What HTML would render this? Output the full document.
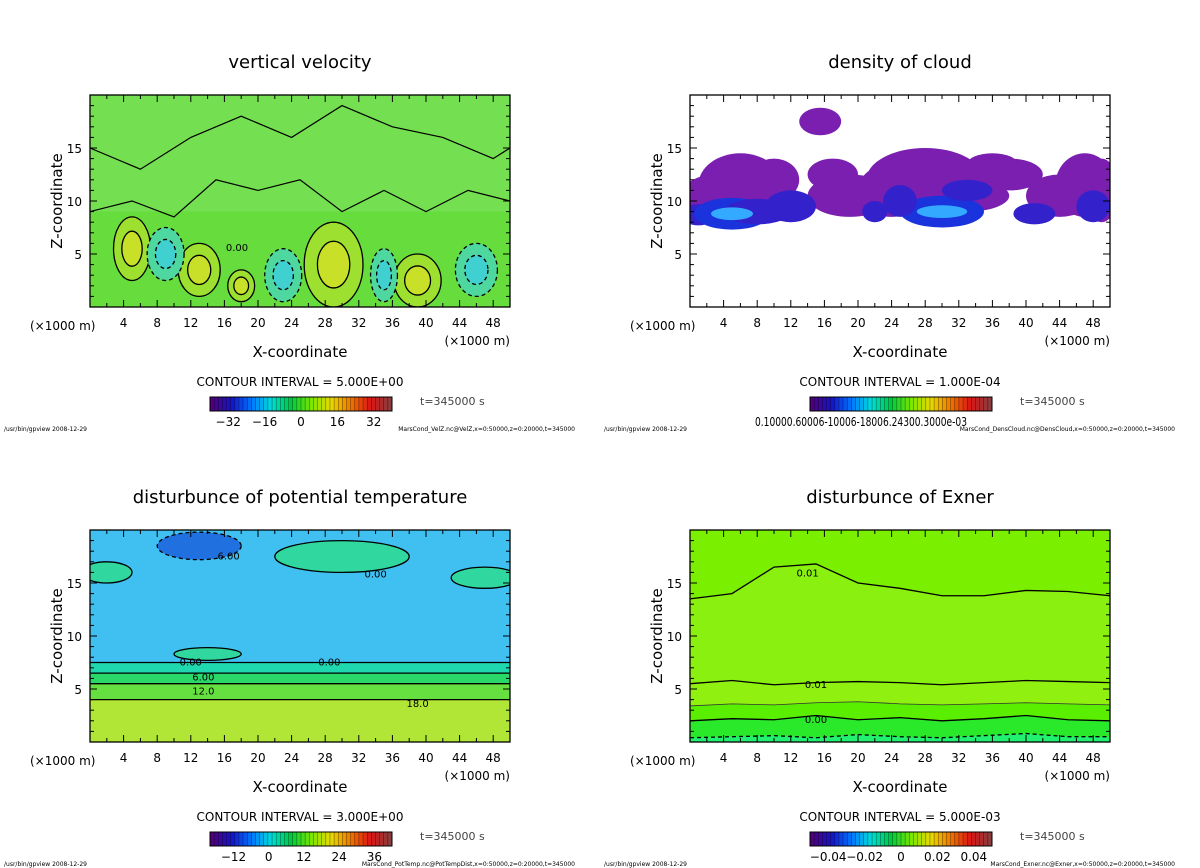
<!DOCTYPE html>
<html><head><meta charset="utf-8">
<style>
body{margin:0;background:#fff;width:1200px;height:868px;overflow:hidden;font-family:"DejaVu Sans","Liberation Sans",sans-serif}
svg{position:absolute;left:0;top:0}
</style></head>
<body>
<svg id="s" width="1200" height="868" font-family="DejaVu Sans, Liberation Sans, sans-serif"></svg>
<script>
// ---- data ----
const xTicks=[4,8,12,16,20,24,28,32,36,40,44,48];
const zTicks=[5,10,15];
// vertical velocity blobs: x(km), z(km), rx, rz, value(m/s)
const vvX=[5,13,18,29,39,9,23,35,46];
const vvZ=[5.5,3.5,2,4,2.5,5,3,3,3.5];
const vvRX=[2.2,2.5,1.6,3.5,2.8,2.2,2.2,1.6,2.5];
const vvRZ=[3,2.5,1.5,4,2.5,2.5,2.5,2.5,2.5];
const vvV=[10,10,6,12,12,-6,-8,-5,-7];
// cloud density blobs
const cdX=[6,19,28,38,47,15.5,3,10,17,24,33,36,44,49,1,5,12,30,41,48,22,8,25,33,5,30];
const cdZ=[11.5,10.5,12,12.5,11.5,17.5,10.5,12,12.5,11,10.5,13.5,10.5,11,8.7,8.8,9.5,9,8.8,9.5,9,9,10,11,8.8,9];
const cdRX=[5,5,7,4,3.5,2.5,4,3,3,4,5,3,4,2,2,4.5,3,5,2.5,2,1.5,4,2,3,2.5,3];
const cdRZ=[3,2,3,1.5,3,1.3,2,2,1.5,2.5,1.5,1,2,3,1,1.5,1.5,1.5,1,1.5,1,1.2,1.5,1,0.6,0.6];
const cdV=[1,1,1,1,1,1,1,1,1,1,1,1,1,1,2,3,2,3,2,2,2,2,2,2,5,5];
// potential temperature layers: z bottom, z top, value
const ptZ0=[0,4,5.5,6.5,7.5];
const ptZ1=[4,5.5,6.5,7.5,20];
const ptV=[18,12,6,0,-3];
const ptBX=[13,30,2,47,14];
const ptBZ=[18.5,17.5,16,15.5,8.3];
const ptBRX=[5,8,3,4,4];
const ptBRZ=[1.3,1.5,1,1,0.6];
const ptBV=[-8,2,1,1,2];
// exner contour lines: z at x = 0,5,...,50
const exX=[0,5,10,15,20,25,30,35,40,45,50];
const exL1=[13.5,14,16.5,16.8,15,14.5,13.8,13.8,14.3,14.2,13.8];
const exL2=[5.5,5.8,5.4,5.6,5.7,5.6,5.4,5.6,5.8,5.7,5.6];
const exL3=[3.4,3.6,3.5,3.7,3.8,3.6,3.5,3.6,3.7,3.6,3.5];
const exL4=[2,2.2,2.1,2.5,2.1,2.3,2.0,2.2,2.5,2.1,2.0];
const exL5=[0.4,0.5,0.6,0.4,0.7,0.5,0.4,0.6,0.8,0.5,0.5];
const cbTicks1=[-32,-16,0,16,32],cbTicks3=[-12,0,12,24,36],cbTicks4=[-0.04,-0.02,0,0.02,0.04];

const S=document.getElementById('s');const NS='http://www.w3.org/2000/svg';
function el(t,a,p){const e=document.createElementNS(NS,t);for(const k in a)e.setAttribute(k,a[k]);(p||S).appendChild(e);return e;}
function tx(x,y,s,size,anchor,p){const e=el('text',{x:x,y:y,'font-size':size,'text-anchor':anchor||'middle',fill:'#000'},p);e.textContent=s;return e;}
function rainbow(t){const st=[[80,0,120],[20,20,200],[0,120,255],[0,220,220],[0,200,60],[120,230,0],[230,220,0],[240,120,0],[220,20,20],[140,60,60]];
 const f=t*(st.length-1),i=Math.min(Math.floor(f),st.length-2),r=f-i;const a=st[i],b=st[i+1];return `rgb(${a.map((v,k)=>Math.round(v+(b[k]-v)*r)).join(',')})`;}

const panels=[
 {x0:90,y0:95,title:'vertical velocity',ci:'CONTOUR INTERVAL = 5.000E+00',foot:'MarsCond_VelZ.nc@VelZ,x=0:50000,z=0:20000,t=345000',ticks:cbTicks1,tmin:-40,tmax:40},
 {x0:690,y0:95,title:'density of cloud',ci:'CONTOUR INTERVAL = 1.000E-04',foot:'MarsCond_DensCloud.nc@DensCloud,x=0:50000,z=0:20000,t=345000',ticks:null},
 {x0:90,y0:530,title:'disturbunce of potential temperature',ci:'CONTOUR INTERVAL = 3.000E+00',foot:'MarsCond_PotTemp.nc@PotTempDist,x=0:50000,z=0:20000,t=345000',ticks:cbTicks3,tmin:-20,tmax:42},
 {x0:690,y0:530,title:'disturbunce of Exner',ci:'CONTOUR INTERVAL = 5.000E-03',foot:'MarsCond_Exner.nc@Exner,x=0:50000,z=0:20000,t=345000',ticks:cbTicks4,tmin:-0.05,tmax:0.05}
];
const W=420,H=212;
panels.forEach((P,pi)=>{
 const g=el('g',{});
 
 
 const X=v=>P.x0+v/50*W, Z=v=>P.y0+H-v/20*H;
 const clip=el('clipPath',{id:'c'+pi},g);el('rect',{x:P.x0,y:P.y0,width:W,height:H},clip);
 const pg=el('g',{'clip-path':`url(#c${pi})`},g);
 const blob=(x,z,rx,rz,fill,stroke,dash)=>{const e=el('ellipse',{cx:X(x),cy:Z(z),rx:rx/50*W,ry:rz/20*H,fill:fill||'none'},pg);if(stroke){e.setAttribute('stroke',stroke);e.setAttribute('stroke-width',1.3);if(dash)e.setAttribute('stroke-dasharray','4 3');}return e;};
 if(pi===0){
  el('rect',{x:P.x0,y:P.y0,width:W,height:H,fill:'#66dd3c'},pg);
  el('rect',{x:P.x0,y:Z(20),width:W,height:Z(9)-Z(20),fill:'#74df50'},pg);
  vvX.forEach((x,i)=>{const v=vvV[i];const c1=v>0?'#9ee030':'#4ed8a0',c2=v>0?'#c8e028':'#40d0d0';
   const b=blob(x,vvZ[i],vvRX[i],vvRZ[i],c1,'#000',v<0);
   blob(x,vvZ[i],vvRX[i]*0.55,vvRZ[i]*0.55,c2,'#000',v<0);});
  el('polyline',{points:[0,9,5,10,10,8.5,15,12,20,11,25,12,30,9,35,11,40,9,45,11,50,10].reduce((a,v,i,arr)=>i%2?a:a+X(v)+','+Z(arr[i+1])+' ',''),fill:'none',stroke:'#000','stroke-width':1.2},pg);
  el('polyline',{points:[0,15,6,13,12,16,18,18,24,16,30,19,36,17,42,16,48,14,50,15].reduce((a,v,i,arr)=>i%2?a:a+X(v)+','+Z(arr[i+1])+' ',''),fill:'none',stroke:'#000','stroke-width':1.2},pg);
  tx(X(17.5),Z(5.3),'0.00',10,'middle',pg);
 } else if(pi===1){
  cdX.forEach((x,i)=>{const v=cdV[i];const c=v>=5?'#33aaff':v>=3?'#1a33dd':v>=2?'#3322cc':'#7a1fb0';const b=blob(x,cdZ[i],cdRX[i],cdRZ[i],c);});
 } else if(pi===2){
  ptV.forEach((v,i)=>{const c=v>=18?'#b2e636':v>=12?'#66e040':v>=6?'#2ad86a':v>=0?'#20d8b0':'#40c0f0';
   const r=el('rect',{x:P.x0,y:Z(ptZ1[i]),width:W,height:Z(ptZ0[i])-Z(ptZ1[i]),fill:c},pg);
   if(i>0)el('line',{x1:P.x0,x2:P.x0+W,y1:Z(ptZ0[i]),y2:Z(ptZ0[i]),stroke:'#000','stroke-width':1.3},pg);});
  ptBX.forEach((x,i)=>{const v=ptBV[i];const b=blob(x,ptBZ[i],ptBRX[i],ptBRZ[i],v<0?'#2070e0':'#30d8a0','#000',v<0);});
  tx(X(12),Z(7.2),'0.00',10,'middle',pg);tx(X(13.5),Z(5.8),'6.00',10,'middle',pg);tx(X(13.5),Z(4.5),'12.0',10,'middle',pg);tx(X(28.5),Z(7.2),'0.00',10,'middle',pg);tx(X(39),Z(3.3),'18.0',10,'middle',pg);tx(X(16.5),Z(17.2),'6.00',10,'middle',pg);tx(X(34),Z(15.5),'0.00',10,'middle',pg);
 } else {
  el('rect',{x:P.x0,y:P.y0,width:W,height:H,fill:'#7af000'},pg);
  const band=(a,b,c)=>{const pts=exX.map((x,i)=>X(x)+','+Z(a[i])).concat(exX.slice().reverse().map((x,i)=>X(x)+','+Z(b?b[exX.length-1-i]:0)));const p=el('polygon',{points:pts.join(' '),fill:c},pg);};
  band(exL1,exL2,'#8af010');band(exL2,exL3,'#90f010');band(exL3,exL4,'#5aee00');band(exL4,exL5,'#2ae82a');band(exL5,null,'#22f070');
  [exL1,exL2,exL3,exL4,exL5].forEach((L,k)=>{const p=el('polyline',{points:exX.map((x,i)=>X(x)+','+Z(L[i])).join(' '),fill:'none',stroke:k===2?'#333':'#000','stroke-width':k===2?0.8:1.3},pg);if(k===4)p.setAttribute('stroke-dasharray','4 3');});
  tx(X(14),Z(15.6),'0.01',10,'middle',pg);tx(X(15),Z(5.1),'0.01',10,'middle',pg);tx(X(15),Z(1.8),'0.00',10,'middle',pg);
 }
 el('rect',{x:P.x0,y:P.y0,width:W,height:H,fill:'none',stroke:'#000','stroke-width':1.3},g);
 for(let x=2;x<50;x+=2){const L=x%4===0?7:4;el('line',{x1:X(x),x2:X(x),y1:P.y0+H,y2:P.y0+H-L,stroke:'#000'},g);el('line',{x1:X(x),x2:X(x),y1:P.y0,y2:P.y0+L,stroke:'#000'},g);}
 for(let z=1;z<20;z++){const L=z%5===0?7:4;el('line',{x1:P.x0,x2:P.x0+L,y1:Z(z),y2:Z(z),stroke:'#000'},g);el('line',{x1:P.x0+W,x2:P.x0+W-L,y1:Z(z),y2:Z(z),stroke:'#000'},g);}
 xTicks.forEach(t=>tx(X(t),P.y0+H+20,String(t),12,'middle',g));
 zTicks.forEach(t=>tx(P.x0-8,Z(t)+5,String(t),12,'end',g));
 tx(P.x0-60,P.y0+H+23,'(×1000 m)',12,'start',g);
 tx(P.x0+W,P.y0+H+38,'(×1000 m)',12,'end',g);
 tx(P.x0+W/2,P.y0+H+50,'X-coordinate',15,'middle',g);
 const yt=tx(0,0,'Z-coordinate',15,'middle',g);yt.setAttribute('transform',`translate(${P.x0-28},${P.y0+H/2}) rotate(-90)`);
 tx(P.x0+W/2,P.y0-27,P.title,18,'middle',g);
 tx(P.x0+210,P.y0+H+79,P.ci,12,'middle',g);
 const cx=P.x0+120,cy=P.y0+H+90,cw=182,ch=14,n=44;
 const cb=el('g',{},g);
 for(let i=0;i<n;i++){el('rect',{x:cx+i*cw/n,y:cy,width:cw/n+0.3,height:ch,fill:rainbow(i/(n-1))},cb);el('line',{x1:cx+i*cw/n,x2:cx+i*cw/n,y1:cy,y2:cy+ch,stroke:'#000','stroke-width':0.5,opacity:0.6},cb);}
 el('rect',{x:cx,y:cy,width:cw,height:ch,fill:'none',stroke:'#000'},cb);
 if(P.ticks){P.ticks.forEach(t=>tx(cx+(t-P.tmin)/(P.tmax-P.tmin)*cw,cy+ch+15,String(t).replace('-','−'),12,'middle',g));}
 else {const t=tx(cx-55,cy+ch+15,'0.10000.60006-10006-18006.24300.3000e-03',12,'start',g);t.setAttribute('textLength','212');t.setAttribute('lengthAdjust','spacingAndGlyphs');}
 const tt=tx(P.x0+330,cy+8,'t=345000  s',11,'start',g);tt.setAttribute('fill','#444');
 tx(P.x0-86,P.y0+H+124,'/usr/bin/gpview   2008-12-29',6,'start',g);
 tx(P.x0+W+65,P.y0+H+124,P.foot,6,'end',g);
});
</script>
</body></html>
